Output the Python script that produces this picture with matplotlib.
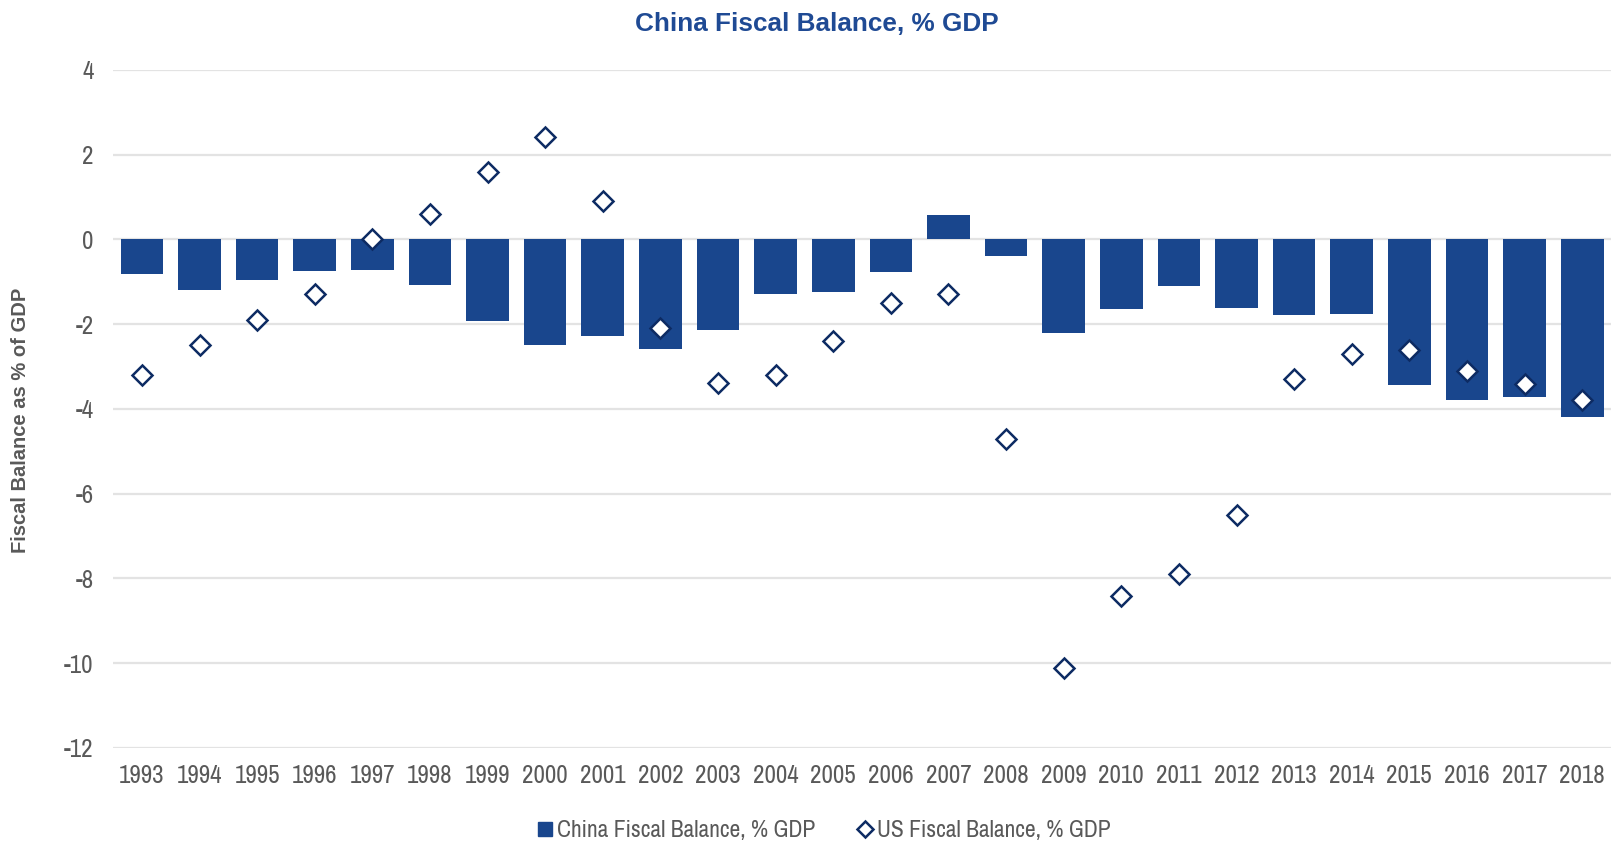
import matplotlib
matplotlib.use("Agg")
import matplotlib.pyplot as plt
from matplotlib.lines import Line2D

years = [str(y) for y in range(1993, 2019)]
china_balance = [-0.82, -1.19, -0.95, -0.74, -0.73, -1.08, -1.93, -2.50, -2.28, -2.59,
                 -2.15, -1.29, -1.23, -0.76, 0.57, -0.39, -2.22, -1.64, -1.10, -1.62,
                 -1.79, -1.76, -3.44, -3.80, -3.73, -4.20]
us_balance = [-3.21, -2.50, -1.90, -1.29, 0.0, 0.60, 1.60, 2.41, 0.91, -2.10,
              -3.40, -3.21, -2.40, -1.51, -1.30, -4.71, -10.12, -8.41, -7.91, -6.51,
              -3.30, -2.71, -2.60, -3.11, -3.41, -3.80]
y_ticks = [4, 2, 0, -2, -4, -6, -8, -10, -12]

BAR_BLUE = "#19468d"
NAVY = "#0d2b63"
TITLE_BLUE = "#1f4a94"
GREY_TEXT = "#595959"
GRID = "#e3e3e3"
NARROW = ["Archivo Narrow", "Liberation Sans", "DejaVu Sans"]
SANS = ["Liberation Sans", "DejaVu Sans"]

fig = plt.figure(figsize=(16.11, 8.41), dpi=100)
ax = fig.add_axes([0.0702, 0.1109, 0.9298, 0.8059])

x = list(range(len(years)))
ax.bar(x, china_balance, width=0.74, color=BAR_BLUE, zorder=2,
       label="China Fiscal Balance, % GDP")
ax.plot(x, us_balance, linestyle="none", marker="D", markersize=10.5,
        markerfacecolor="white", markeredgecolor=NAVY, markeredgewidth=1.8,
        zorder=3, label="US Fiscal Balance, % GDP")

ax.set_xlim(-0.5, len(years) - 0.5)
ax.set_ylim(-12, 4)
ax.set_yticks(y_ticks)
ax.set_yticklabels([str(t) for t in y_ticks])
ax.set_xticks(x)
ax.set_xticklabels(years)
ax.grid(axis="y", color=GRID, linewidth=1.6, zorder=0)
ax.set_axisbelow(True)
for s in ax.spines.values():
    s.set_visible(False)
ax.tick_params(axis="both", length=0, colors=GREY_TEXT)
ax.tick_params(axis="y", pad=14)
ax.tick_params(axis="x", pad=12)
for lab in ax.get_xticklabels() + ax.get_yticklabels():
    lab.set_family(NARROW)
    lab.set_fontsize(18)
    lab.set_color(GREY_TEXT)

fig.text(0.0125, 0.5, "Fiscal Balance as % of GDP", rotation=90,
         ha="center", va="center", fontsize=14.5, fontweight="bold",
         color=GREY_TEXT, family=SANS)

fig.text(0.507, 0.972, "China Fiscal Balance, % GDP", ha="center", va="center",
         fontsize=18.8, fontweight="bold", color=TITLE_BLUE, family=SANS)

handles = [
    Line2D([], [], linestyle="none", marker="s", markersize=10,
           markerfacecolor=BAR_BLUE, markeredgecolor=BAR_BLUE),
    Line2D([], [], linestyle="none", marker="D", markersize=8,
           markerfacecolor="white", markeredgecolor=NAVY, markeredgewidth=1.8),
]
fig.legend(handles, ["China Fiscal Balance, % GDP", "US Fiscal Balance, % GDP"],
           loc="center", bbox_to_anchor=(0.511, 0.012), ncol=2, frameon=False,
           handlelength=0.8, handletextpad=0.1, columnspacing=1.7,
           prop={"family": NARROW, "size": 17}, labelcolor=GREY_TEXT)

fig.savefig("out.png", dpi=100, facecolor="white")
